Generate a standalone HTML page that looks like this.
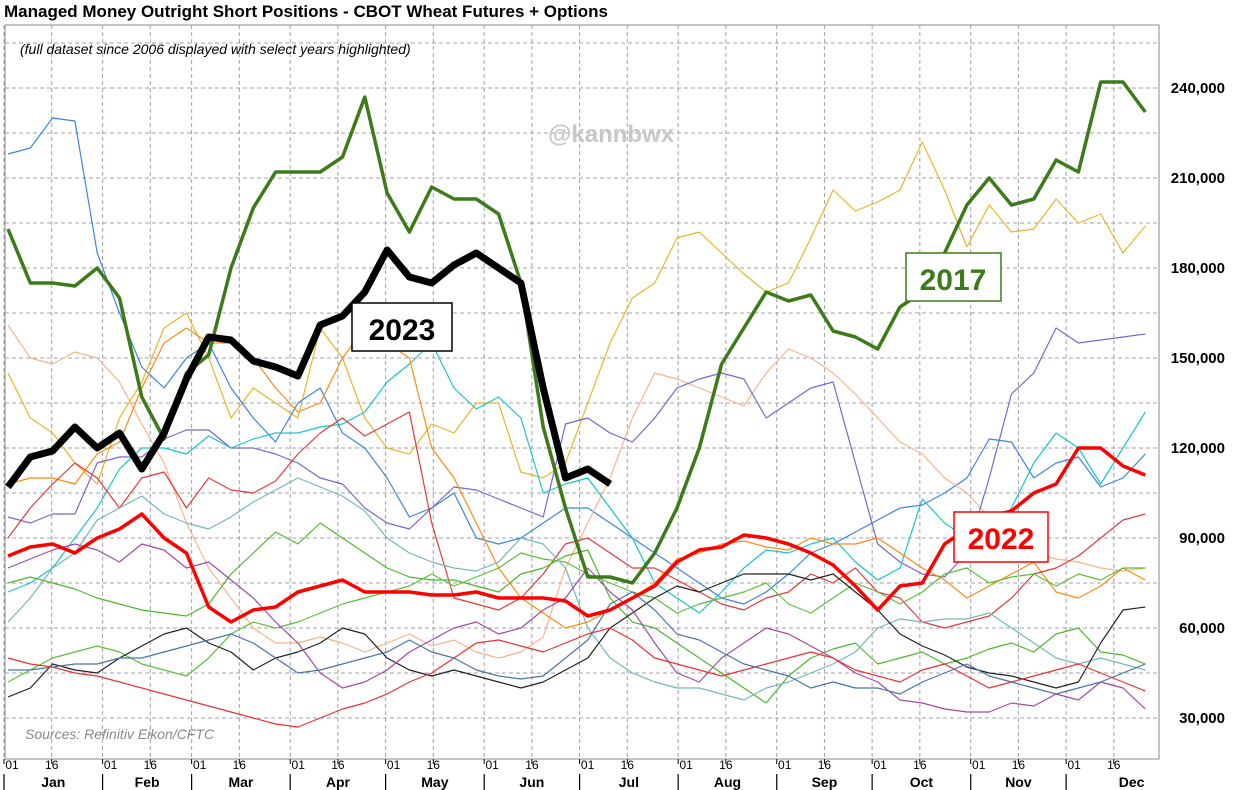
<!DOCTYPE html>
<html><head><meta charset="utf-8"><style>
body{margin:0;background:#fff;font-family:"Liberation Sans",sans-serif}
svg{display:block}
</style></head><body>
<svg id="c" width="1240" height="790" font-family="Liberation Sans, sans-serif">
<text x="4" y="17" font-size="17" font-weight="bold">Managed Money Outright Short Positions - CBOT Wheat Futures + Options</text>
<rect x="5" y="25" width="1154" height="734" fill="none" stroke="#888"/>
<g id="grid"></g>
<text x="20" y="54" font-size="14" font-style="italic">(full dataset since 2006 displayed with select years highlighted)</text>
<text x="548" y="142" font-size="24" font-weight="bold" fill="#c8c8c8">@kannbwx</text>
<text x="25" y="739" font-size="14" font-style="italic" fill="#888">Sources: Refinitiv Eikon/CFTC</text>
<g id="lines"></g>
<g id="axes"></g>
<g><rect x="352" y="303" width="100" height="48" fill="#fff" stroke="#000" stroke-width="1.5"/><text x="402" y="340" font-size="30" font-weight="bold" text-anchor="middle">2023</text></g>
<g><rect x="906" y="253" width="95" height="48" fill="#fff" stroke="#3c7a1a" stroke-width="1.5"/><text x="953" y="290" font-size="30" font-weight="bold" fill="#3c7a1a" text-anchor="middle">2017</text></g>
<g><rect x="954" y="512" width="94" height="50" fill="#fff" stroke="#f00" stroke-width="1.5"/><text x="1001" y="549" font-size="30" font-weight="bold" fill="#f00" text-anchor="middle">2022</text></g>
</svg>
<script>
const months=["Jan","Feb","Mar","Apr","May","Jun","Jul","Aug","Sep","Oct","Nov","Dec"];
const monthStartDoy=[0,31,59,90,120,151,181,212,243,273,304,334];
const yTicks=[30000,60000,90000,120000,150000,180000,210000,240000];
const s2023=[107,117,119,127,120,125,113,125,143,157,156,149,147,144,161,164,172,186,177,175,181,185,180,175,140,110,113,108];
const s2017=[193,175,175,174,180,170,137,123,145,151,180,200,212,212,212,217,237,205,192,207,203,203,198,175,127,100,77,77,75,85,100,120,148,160,172,169,171,159,157,153,167,172,185,201,210,201,203,216,212,242,242,232];
const s2022=[84,87,88,85,90,93,98,90,85,67,62,66,67,72,74,76,72,72,72,71,71,72,70,70,70,69,64,66,70,74,82,86,87,91,90,88,85,81,74,66,74,75,88,93,97,99,105,108,120,120,114,111];
const sGold=[145,130,125,115,108,130,142,160,165,150,130,140,135,130,160,150,130,120,118,128,125,135,135,112,110,115,135,155,170,175,190,192,185,178,172,175,190,206,199,202,206,222,206,187,201,192,193,203,195,198,185,194];
const sBlue=[218,220,230,229,185,165,147,140,150,155,140,130,122,135,140,125,120,110,97,100,105,90,88,90,95,100,100,95,90,85,80,75,70,68,72,78,85,88,92,96,100,101,105,110,123,122,110,115,117,107,110,118];
const sPeach=[161,150,148,152,150,142,128,115,95,80,70,60,55,55,57,55,52,55,58,54,56,52,50,52,57,80,95,110,130,145,143,140,137,134,145,153,150,145,138,130,122,118,110,105,97,90,85,83,82,80,79,80];
const sPurple=[97,95,98,98,115,117,117,123,126,126,120,120,118,115,110,108,100,95,93,100,107,106,103,100,97,128,130,125,122,130,140,143,145,143,130,135,140,142,115,88,82,78,77,85,110,138,145,160,155,156,157,158];
const sCyan=[72,75,80,90,100,113,120,120,118,124,120,123,125,125,127,128,132,142,148,155,140,133,137,130,105,108,110,100,90,75,70,65,72,80,86,85,88,90,82,76,80,103,95,90,92,100,115,125,120,108,120,132];
const sOrange=[108,110,110,108,118,122,140,155,160,155,155,150,140,132,135,150,160,155,150,120,110,95,80,70,65,60,62,66,70,75,83,85,88,89,87,86,90,88,88,90,85,80,76,70,74,78,82,72,70,74,80,76];
const sRed=[90,100,108,115,110,100,110,112,100,110,106,105,109,118,125,130,124,128,132,95,70,68,66,70,78,88,90,85,80,80,76,72,68,66,70,72,78,75,80,72,70,62,60,62,64,70,78,80,84,90,96,98];
const sGreen=[75,77,75,73,70,68,66,65,64,68,78,85,92,88,95,90,85,80,77,76,76,74,72,78,80,84,86,70,62,60,55,50,45,40,35,44,50,53,55,48,50,52,48,50,53,55,52,58,60,52,51,48];
const sGreen2=[42,46,50,52,54,52,48,46,44,50,58,62,60,62,65,68,70,72,74,78,74,77,80,85,83,82,78,75,72,70,65,68,70,72,75,68,65,70,75,72,68,72,78,80,75,77,78,74,78,76,80,80];
const sTeal=[62,70,80,85,96,100,104,98,95,93,97,102,106,110,107,104,99,90,85,82,80,79,82,90,88,80,60,50,45,42,40,40,38,36,40,42,45,48,52,60,63,62,63,63,65,60,55,50,48,50,48,46];
const sBlack=[37,40,48,46,45,50,54,58,60,55,52,46,50,52,55,60,58,50,46,44,46,44,42,40,42,46,50,60,65,70,74,72,75,78,78,78,76,78,72,66,58,54,51,47,45,44,42,40,42,55,66,67];
const sMagenta=[80,83,86,88,86,82,88,86,80,82,76,70,62,55,45,40,42,46,52,56,60,62,58,60,66,70,80,72,66,55,45,42,50,55,60,58,54,50,45,42,36,35,33,32,32,35,34,38,36,42,40,33];
const sRed2=[50,48,47,45,44,42,40,38,36,34,32,30,28,27,30,33,35,38,42,45,50,55,56,54,52,55,58,60,56,50,48,46,44,46,48,50,52,50,46,44,42,46,48,44,40,42,44,46,48,45,42,39];
const sSlate=[46,46,47,48,48,50,50,52,54,56,58,55,50,45,46,48,50,52,56,52,50,46,44,43,44,50,56,68,72,66,58,56,52,48,46,44,40,42,40,40,38,42,45,48,44,42,40,38,40,42,45,48];
const NS="http://www.w3.org/2000/svg";
const X0=5,X1=1159,Y0=25,Y1=759;
function xDoy(d){return 4+d*3.18;}
function xWeek(i){return 8+i*22.3;}
function yVal(k){return 88+(240-k)*3;}
function mk(t,a,p){const e=document.createElementNS(NS,t);for(const k in a)e.setAttribute(k,a[k]);p.appendChild(e);return e;}
const grid=document.getElementById('grid'),axes=document.getElementById('axes'),lines=document.getElementById('lines');
for(let v=15;v<=255;v+=15){const y=yVal(v);if(y<Y0||y>Y1)continue;
 const l=mk('line',{x1:X0,x2:X1,y1:y,y2:y,stroke:'#a0a0b0','stroke-dasharray':'4,3'},grid);
 }
months.forEach((m,i)=>{
 [0,15].forEach((off,j)=>{const x=xDoy(monthStartDoy[i]+off);
  const g=mk('line',{x1:x,x2:x,y1:Y0,y2:Y1,stroke:'#a0a0b0','stroke-dasharray':'4,3'},grid);
  
  const t=mk('line',{x1:x,x2:x,y1:Y1,y2:Y1+5,stroke:'#000'},axes);
  
  const tl=mk('text',{x:x+(j?0:8),y:769,'font-size':12,'text-anchor':'middle'},axes);tl.textContent=j?'16':'01';
  });
 const xs=xDoy(monthStartDoy[i]);
 const sep=mk('line',{x1:xs,x2:xs,y1:774,y2:790,stroke:'#000','stroke-width':1.2},axes);
 
 const xe=i<11?xDoy(monthStartDoy[i+1]):X1+38;
 const ml=mk('text',{x:(xs+xe)/2,y:787,'font-size':14,'font-weight':'bold','text-anchor':'middle'},axes);ml.textContent=m;
 
});
yTicks.forEach(v=>{const t=mk('text',{x:1225,y:yVal(v/1000)+5,'font-size':15,'font-weight':'bold','text-anchor':'end'},axes);
 t.textContent=v.toLocaleString('en-US');});
const thin=[[sGold,'#e8b52a'],[sBlue,'#3d85e0'],[sPeach,'#f9b48a'],[sPurple,'#7a66cc'],[sCyan,'#1cc3cc'],[sOrange,'#ff8a14'],[sRed,'#e23a3a'],[sGreen,'#4db82a'],[sGreen2,'#5bbf3a'],[sTeal,'#74b8b8'],[sBlack,'#222'],[sMagenta,'#a44aa4'],[sRed2,'#f03030'],[sSlate,'#4a74a8']];
function draw(arr,col,w,name){const p=arr.map((v,i)=>xWeek(i).toFixed(1)+','+yVal(v).toFixed(1)).join(' ');
 const e=mk('polyline',{points:p,fill:'none',stroke:col,'stroke-width':w,'stroke-linejoin':'round'},lines);
 }
thin.forEach((s,i)=>draw(s[0],s[1],1.2,'series-line'));
draw(s2022,'#f00',3.5,'series-2022');
draw(s2017,'#3c7a1a',3.5,'series-2017');
draw(s2023,'#000',7,'series-2023');
</script>
</body></html>
